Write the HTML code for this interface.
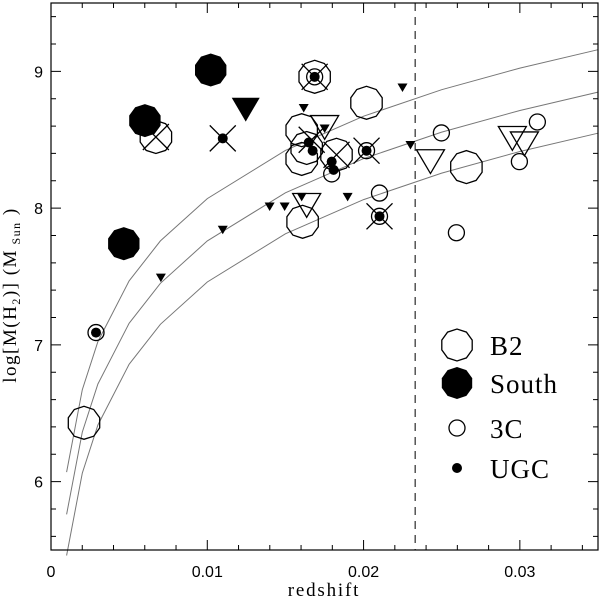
<!DOCTYPE html>
<html><head><meta charset="utf-8"><style>
html,body{margin:0;padding:0;background:#fff;width:600px;height:600px;overflow:hidden}
svg{display:block}
</style></head><body>
<svg id="chart" width="600" height="600" xmlns="http://www.w3.org/2000/svg"></svg>
<script>
const xTicks=[0,0.01,0.02,0.03];
const xTickLabels=["0","0.01","0.02","0.03"];
const yTicks=[6,7,8,9];
const yTickLabels=["6","7","8","9"];
const curveOffsets=[8.07,7.76,7.46];
const curveZ=[0.001,0.002,0.003,0.005,0.007,0.01,0.015,0.02,0.025,0.03,0.035];
const dashZ=0.0233;
const b2Z=[0.00211,0.00671,0.01604,0.01636,0.01604,0.01827,0.01610,0.02019,0.02658,0.01687];
const b2M=[6.43,8.52,8.57,8.44,8.36,8.39,7.90,8.77,8.30,8.96];
const southZ=[0.01022,0.00601,0.00466];
const southM=[9.01,8.64,7.74];
const c3Z=[0.02498,0.03112,0.02997,0.02594,0.02102,0.01796,0.00511,0.00288,0.02102,0.02019,0.01687];
const c3M=[8.55,8.63,8.34,7.82,8.11,8.25,7.72,7.09,7.94,8.42,8.96];
const ugcZ=[0.00511,0.00288,0.01099,0.01687,0.02102,0.02019,0.01649,0.01674,0.01796,0.01808];
const ugcM=[7.72,7.09,8.51,8.96,7.94,8.42,8.48,8.42,8.34,8.28];
const crossZ=[0.00671,0.01099,0.01687,0.02019,0.02102,0.01827,0.01668];
const crossM=[8.52,8.51,8.96,8.42,7.94,8.39,8.50];
const smallTriZ=[0.00703,0.01099,0.01399,0.01495,0.01604,0.01898,0.02249,0.02300,0.01617,0.01751];
const smallTriM=[7.49,7.84,8.01,8.01,8.08,8.08,8.88,8.46,8.73,8.58];
const bigTriZ=[0.01246];
const bigTriM=[8.72];
const openTriZ=[0.01751,0.01636,0.02428,0.02952,0.03029];
const openTriM=[8.59,8.02,8.34,8.51,8.47];

const L=51,R=598,T=3,B=550;
const X=z=>L+z/0.035*(R-L);
const Y=m=>B-(m-5.5)/4*(B-T);
const svg=document.getElementById('chart');
const NS='http://www.w3.org/2000/svg';
function mk(tag,attrs,parent){const e=document.createElementNS(NS,tag);for(const k in attrs)e.setAttribute(k,attrs[k]);(parent||svg).appendChild(e);return e;}
function deca(cx,cy,r){let p=[];for(let i=0;i<10;i++){const a=Math.PI/10+i*Math.PI/5;p.push((cx+r*Math.cos(a)).toFixed(1)+','+(cy+r*Math.sin(a)).toFixed(1));}return p.join(' ');}
function tri(cx,cy,w){const h=w*0.85;return `${cx-w/2},${cy-h/2} ${cx+w/2},${cy-h/2} ${cx},${cy+h/2}`;}

curveOffsets.forEach((c,i)=>{
  const pts=curveZ.map(z=>X(z).toFixed(1)+','+Y(2*Math.log10(z/0.01)+c).toFixed(1)).join(' ');
  const e=mk('polyline',{points:pts,fill:'none',stroke:'#777','stroke-width':1});
  
  
});
const dl=mk('line',{x1:X(dashZ),x2:X(dashZ),y1:T,y2:B,stroke:'#000','stroke-width':1,'stroke-dasharray':'8,6'});



b2Z.forEach((z,i)=>{const e=mk('polygon',{points:deca(X(z),Y(b2M[i]),16.5),fill:'none',stroke:'#000','stroke-width':1.3});

});
southZ.forEach((z,i)=>{const e=mk('polygon',{points:deca(X(z),Y(southM[i]),16),fill:'#000',stroke:'#000'});

});
c3Z.forEach((z,i)=>{const e=mk('circle',{cx:X(z),cy:Y(c3M[i]),r:8,fill:'none',stroke:'#000','stroke-width':1.3});

});
ugcZ.forEach((z,i)=>{const e=mk('circle',{cx:X(z),cy:Y(ugcM[i]),r:5,fill:'#000'});

});
crossZ.forEach((z,i)=>{const cx=X(z),cy=Y(crossM[i]),d=13;
const e=mk('path',{d:`M${cx-d},${cy-d}L${cx+d},${cy+d}M${cx-d},${cy+d}L${cx+d},${cy-d}`,stroke:'#000','stroke-width':1.3,fill:'none'});

});
smallTriZ.forEach((z,i)=>{const e=mk('polygon',{points:tri(X(z),Y(smallTriM[i]),10),fill:'#000'});

});
bigTriZ.forEach((z,i)=>{const e=mk('polygon',{points:tri(X(z),Y(bigTriM[i]),28),fill:'#000'});

});
openTriZ.forEach((z,i)=>{const e=mk('polygon',{points:tri(X(z),Y(openTriM[i]),28),fill:'none',stroke:'#000','stroke-width':1.3});

});

const fr=mk('rect',{x:L,y:T,width:R-L,height:B-T,fill:'none',stroke:'#000','stroke-width':1.2});


let td='';
for(let k=0;k<=17;k++){const z=k*0.002;const x=X(z);const len=(Math.abs(z*100-Math.round(z*100))<1e-6)?10:5;td+=`M${x},${B}v${-len}M${x},${T}v${len}`;}
for(let k=0;k<=20;k++){const m=5.6+k*0.2;if(m>9.5)break;const y=Y(m);const len=(Math.abs(m-Math.round(m))<1e-6)?10:5;td+=`M${L},${y}h${len}M${R},${y}h${-len}`;}
const tk=mk('path',{d:td,stroke:'#000','stroke-width':1,fill:'none'});


xTicks.forEach((z,i)=>{const t=mk('text',{x:X(z),y:577,'text-anchor':'middle','font-family':'Liberation Sans, sans-serif','font-size':16});t.textContent=xTickLabels[i];

});
yTicks.forEach((m,i)=>{const t=mk('text',{x:43,y:Y(m)+6,'text-anchor':'end','font-family':'Liberation Sans, sans-serif','font-size':16});t.textContent=yTickLabels[i];

});
const xt=mk('text',{x:324,y:596,'text-anchor':'middle','font-family':'Liberation Serif, serif','font-size':19,'letter-spacing':'1.8'});xt.textContent='redshift';


const yt=mk('text',{transform:'translate(16,295) rotate(-90)','text-anchor':'middle','font-family':'Liberation Serif, serif','font-size':19,'letter-spacing':'1.5'});
yt.innerHTML='log[M(H<tspan font-size="12" dy="4">2</tspan><tspan dy="-4">)] (M</tspan><tspan font-size="12" dy="4"> Sun</tspan><tspan dy="-4"> )</tspan>';



const lg=mk('g',{});


const rows=[['B2',345],['South',383],['3C',428],['UGC',468]];
mk('polygon',{points:deca(457,345,16),fill:'none',stroke:'#000','stroke-width':1.3},lg);
mk('polygon',{points:deca(457,383,16),fill:'#000'},lg);
mk('circle',{cx:457,cy:428,r:8,fill:'none',stroke:'#000','stroke-width':1.3},lg);
mk('circle',{cx:457,cy:468,r:5,fill:'#000'},lg);
rows.forEach(r=>{const t=mk('text',{x:490,y:r[1]+10,'font-family':'Liberation Serif, serif','font-size':27,'letter-spacing':'1'},lg);t.textContent=r[0];

});
</script>
</body></html>
